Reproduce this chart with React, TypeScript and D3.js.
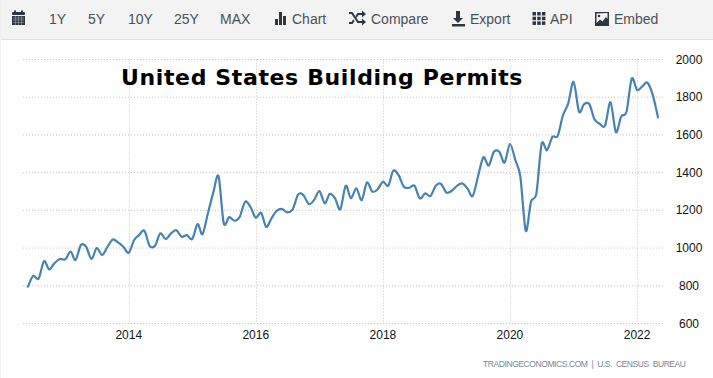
import React from "react";
import * as d3 from "d3";

const permits = [
  795, 852, 838, 931, 887, 921, 942, 940, 981, 937, 1016, 1007, 942, 1000, 963, 1007, 1046, 1030, 1007, 975,
  1043, 1069, 1092, 1012, 1012, 1078, 1048, 1078, 1095, 1060, 1069, 1048, 1127, 1073, 1185, 1290, 1381, 1132, 1164, 1145,
  1166, 1246, 1219, 1161, 1187, 1112, 1159, 1198, 1207, 1189, 1207, 1285, 1281, 1233, 1254, 1302, 1237, 1287, 1264, 1205,
  1331, 1264, 1317, 1254, 1348, 1299, 1311, 1352, 1331, 1410, 1387, 1325, 1320, 1331, 1264, 1290, 1276, 1331, 1340, 1294,
  1304, 1329, 1343, 1317, 1276, 1378, 1481, 1438, 1511, 1511, 1453, 1552, 1467, 1378, 1091, 1246, 1290, 1552, 1519, 1590,
  1594, 1705, 1767, 1882, 1723, 1762, 1764, 1683, 1658, 1650, 1774, 1614, 1697, 1723, 1899, 1838, 1859, 1877, 1811, 1693,
];
const months = d3.timeMonth.range(new Date(2012, 5, 1), new Date(2022, 5, 1));
const yTicks = [600, 800, 1000, 1200, 1400, 1600, 1800, 2000];
const xTickYears = [2014, 2016, 2018, 2020, 2022];
const ranges = [
  { label: "1Y", x: 49 },
  { label: "5Y", x: 88 },
  { label: "10Y", x: 128 },
  { label: "25Y", x: 174 },
  { label: "MAX", x: 220 },
];
const menu = [
  { label: "Chart", x: 292 },
  { label: "Compare", x: 371 },
  { label: "Export", x: 470 },
  { label: "API", x: 550 },
  { label: "Embed", x: 614 },
];
const titleText = "United States Building Permits";
const sourceText = "TRADINGECONOMICS.COM  |  U.S.  CENSUS  BUREAU";

const ICON = "#2f3640";

export default function App() {
  const x = d3.scaleTime().domain([months[0], months[months.length - 1]]).range([28, 658]);
  const y = d3.scaleLinear().domain([600, 2000]).range([323.5, 59.5]);
  const line = d3
    .line<number>()
    .x((_, i) => x(months[i]))
    .y((d) => y(d))
    .curve(d3.curveCardinal.tension(0.1));
  const sans = "'Liberation Sans', Arial, sans-serif";
  return (
    <svg
      width={713}
      height={378}
      style={{ position: "absolute", left: 0, top: 0, background: "#fff", display: "block" }}
    >
      <rect x={0} y={0} width={713} height={39} fill="#f3f3f3" />
      <rect x={0} y={39} width={713} height={1} fill="#dedede" />
      <rect x={0} y={0} width={1} height={378} fill="#efefef" />

      {/* toolbar icons */}
      <g fill={ICON}>
        <rect x={12} y={12} width={13} height={3} rx={1} />
        <rect x={14} y={10.5} width={2} height={2} />
        <rect x={21} y={10.5} width={2} height={2} />
        <rect x={12} y={16} width={13} height={9} />
        <path d="M13 18h11M13 20h11M13 22.500h11M15.500 16v9M18.500 16v9M21.500 16v9" stroke="#9a9fa5" strokeWidth={0.6} />
        <rect x={275} y={19} width={3} height={6} />
        <rect x={279} y={12} width={3} height={13} />
        <rect x={283} y={16} width={3} height={9} />
        <path d="M349 13h3.500l6 9H362v-2.500l4 3.500-4 3.500V24h-4.500l-6-9H349z" transform="translate(0,-1)" />
        <path d="M349 24h3.500l2-3-1.200-1.700-1.800 2.700H349zM357.500 13H362v-2.500l4 3.500-4 3.500V15h-3.500l-1.800 2.700-1.200-1.700z" />
        <path d="M456 11h4v7h3l-5 5-5-5h3z" />
        <rect x={452} y={24} width={13} height={2.500} />
        {[0, 1, 2].flatMap((r) =>
          [0, 1, 2].map((c) => <rect key={`${r}-${c}`} x={532.500 + c * 4.700} y={12 + r * 4.700} width={3.500} height={3.500} />)
        )}
        <path d="M595 12h14v14h-14z M596.500 13.500v9.500l3.500-3.500 2.500 2 3.500-4.500 1.500 2v-6z" fillRule="evenodd" />
        <circle cx={599} cy={16} r={1.300} />
      </g>

      <g fontFamily={sans} fontSize={14} fill="#4a5058">
        {ranges.map((r) => (
          <text key={r.label} x={r.x} y={24}>{r.label}</text>
        ))}
        {menu.map((m) => (
          <text key={m.label} x={m.x} y={24}>{m.label}</text>
        ))}
      </g>

      {/* grid */}
      <g stroke="#c4c4c4" strokeWidth={1} strokeDasharray="1 2" fill="none">
        {yTicks.map((t) => (
          <line key={t} x1={23} x2={665} y1={y(t)} y2={y(t)} />
        ))}
        {xTickYears.map((t) => {
          const px = Math.round(x(new Date(t, 0, 1))) + 0.5;
          return <line key={t} x1={px} x2={px} y1={59.5} y2={323.5} />;
        })}
      </g>

      <path d={line(permits) ?? ""} fill="none" stroke="#4682b4" strokeWidth={2.2} strokeLinejoin="round" strokeLinecap="round" />

      <g fontFamily={sans} fontSize={12} fill="#111">
        {yTicks.map((t) => (
          <text key={t} x={689} y={y(t) + 4} textAnchor="middle">{t}</text>
        ))}
        {xTickYears.map((t) => (
          <text key={t} x={x(new Date(t, 0, 1))} y={339} textAnchor="middle">{t}</text>
        ))}
      </g>

      <text x={121} y={85} fontFamily="'DejaVu Sans', Verdana, sans-serif" fontWeight="bold" fontSize={22} letterSpacing={0.63} fill="#000">
        {titleText}
      </text>
      <text x={483} y={367} fontFamily={sans} fontSize={8.5} fill="#7a8794" textLength={203} lengthAdjust="spacing" style={{ whiteSpace: "pre" }}>
        {sourceText}
      </text>
    </svg>
  );
}
